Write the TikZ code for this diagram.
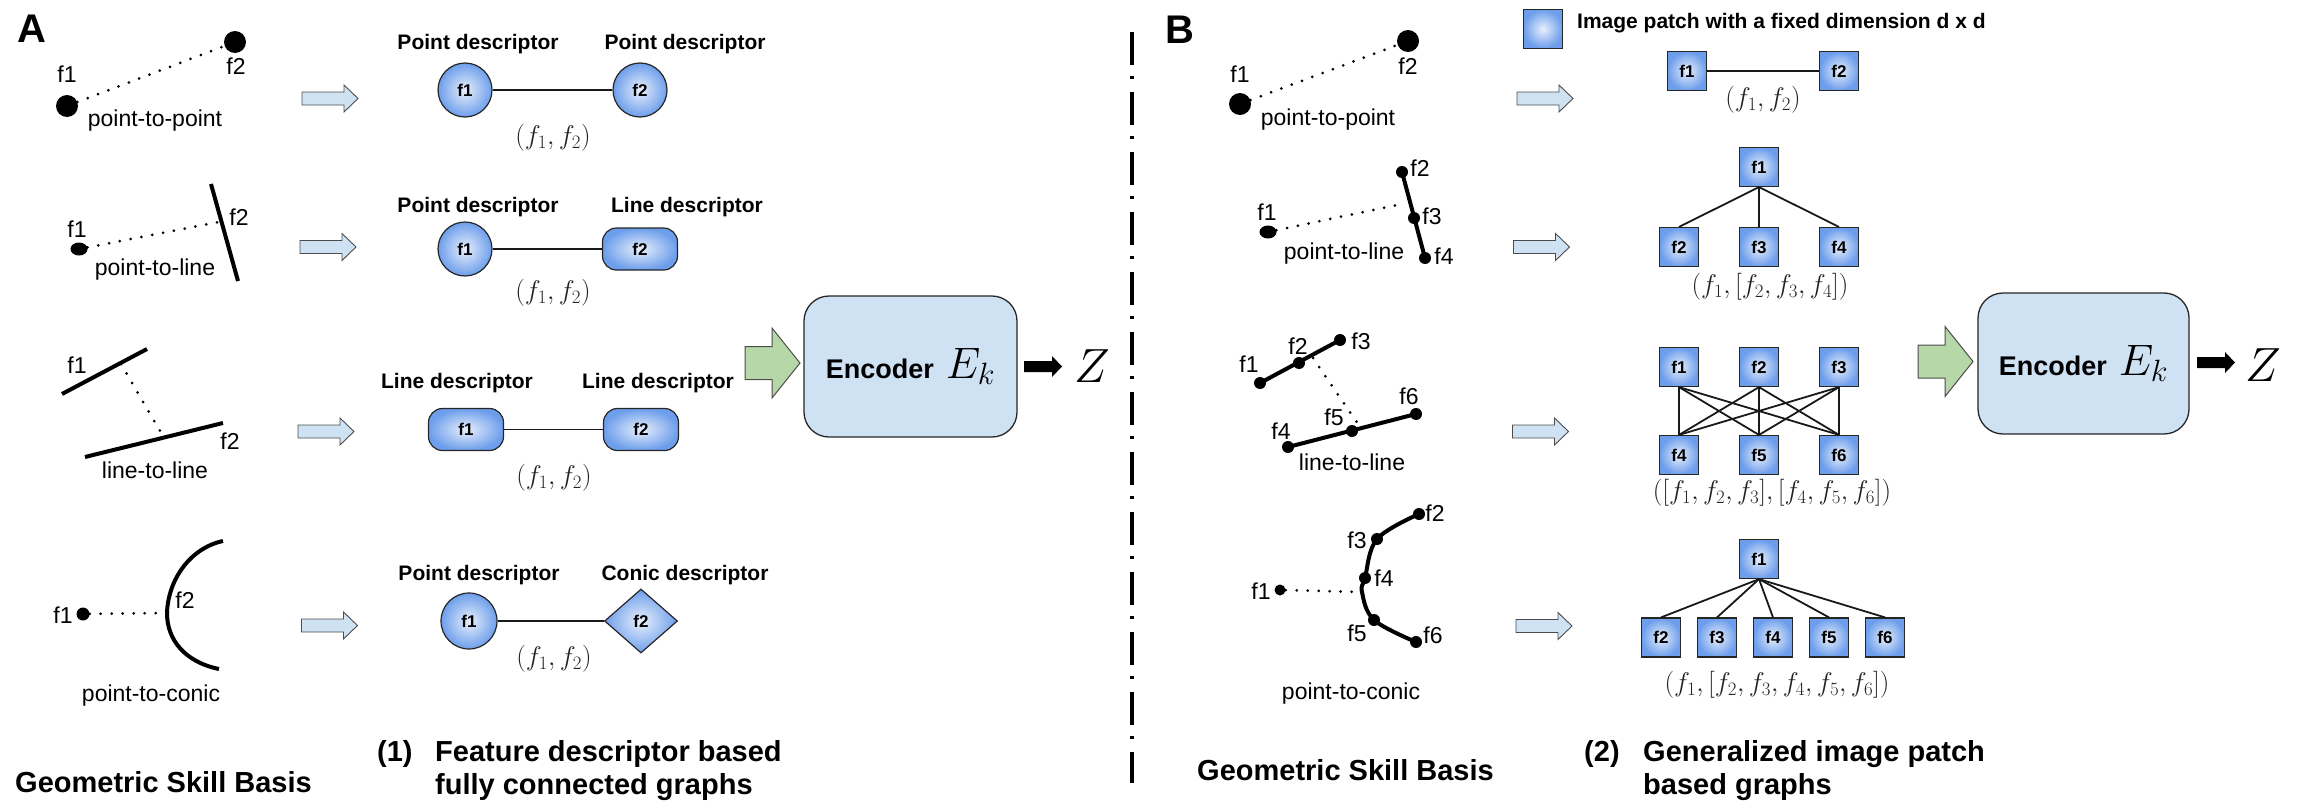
\RequirePackage{fix-cm}
\documentclass[tikz,border=0pt]{standalone}
\usepackage[no-math]{fontspec}
\setmainfont{Liberation Sans}
\usetikzlibrary{shapes.geometric}
\definecolor{lblue}{HTML}{CFE2F3}
\definecolor{lgreen}{HTML}{B6D7A8}
\definecolor{nodeout}{HTML}{6D9EEB}
\definecolor{nodein}{HTML}{E8EFFC}
\definecolor{mathgray}{HTML}{222222}
\newcommand{\fsz}[1]{\fontsize{#1}{#1}\selectfont}
\tikzset{
  ptdot/.style={circle,fill=black,inner sep=0pt,minimum size=22pt},
  smalldot/.style={circle,fill=black,inner sep=0pt,minimum size=12pt},
  ovaldot/.style={ellipse,fill=black,inner sep=0pt,minimum width=17pt,minimum height=13pt},
  flab/.style={inner sep=0pt,font=\fsz{23}},
  dotline/.style={line width=3pt,line cap=round,dash pattern=on 0pt off 11pt},
  thickline/.style={line width=4pt},
  featnode/.style={draw=black!85,line width=1.2pt,inner color=nodein,outer color=nodeout,inner sep=0pt,font=\fsz{17}\bfseries},
  circnode/.style={featnode,circle,minimum size=54pt},
  linenode/.style={featnode,rectangle,rounded corners=14pt,minimum width=75pt,minimum height=42pt},
  conicnode/.style={featnode,diamond,aspect=1.15,minimum width=73pt,minimum height=64pt},
  patch/.style={featnode,rectangle,minimum size=39pt},
  desclab/.style={inner sep=0pt,font=\fsz{21}\bfseries},
  tuplab/.style={inner sep=0pt,text=mathgray,font=\fsz{27}},
  gedge/.style={line width=1.8pt,black!90},
  encbox/.style={draw=black!85,line width=1.3pt,fill=lblue,rounded corners=25pt,minimum width=213pt,minimum height=141pt,inner sep=0pt},
  ttl/.style={inner sep=0pt,anchor=base west,font=\fsz{29}\bfseries},
  panellab/.style={inner sep=0pt,font=\fsz{40}\bfseries},
  zlab/.style={inner sep=0pt,font=\fsz{48}},
  bluearrow/.pic={\draw[fill=lblue,draw=black!70,line width=0.9pt] (-28,-6.5) -- (14,-6.5) -- (14,-13.5) -- (28,0) -- (14,13.5) -- (14,6.5) -- (-28,6.5) -- cycle;},
  greenarrow/.pic={\draw[fill=lgreen,draw=black!70,line width=1pt] (-27.5,-16.5) -- (-0.5,-16.5) -- (-0.5,-35) -- (27.5,0) -- (-0.5,35) -- (-0.5,16.5) -- (-27.5,16.5) -- cycle;},
  blackarrow/.pic={\fill[black] (-19,-5.5) -- (9,-5.5) -- (9,-10.5) -- (19,0) -- (9,10.5) -- (9,5.5) -- (-19,5.5) -- cycle;}
}
\begin{document}
\begin{tikzpicture}[x=1pt,y=-1pt]
\useasboundingbox (0,0) rectangle (2298,811);

% ================= PANEL A =================
\node[panellab] (labA) at (32,29) {A};

% row 1: point-to-point
\node[ptdot] (a1p1) at (67,106) {};
\node[ptdot] (a1p2) at (235,42) {};
\draw[dotline] (a1p1) -- (a1p2);
\node[flab] (a1l1) at (67,74) {f1};
\node[flab] (a1l2) at (236,66) {f2};
\node[flab] (a1cap) at (155,121) {point-to-point};

% row 2: point-to-line
\node[ovaldot] (a2p1) at (79,249) {};
\coordinate (a2s1) at (211,184);
\coordinate (a2s2) at (238,281);
\coordinate (a2d) at (219,222);
\draw[thickline] (a2s1) -- (a2s2);
\draw[dotline] (a2p1) -- (a2d);
\node[flab] (a2l1) at (77,229) {f1};
\node[flab] (a2l2) at (239,217) {f2};
\node[flab] (a2cap) at (155,270) {point-to-line};

% row 3: line-to-line
\coordinate (a3s1) at (62,394);
\coordinate (a3s2) at (147,349);
\coordinate (a3t1) at (85,457);
\coordinate (a3t2) at (223,423);
\coordinate (a3d1) at (121,364);
\coordinate (a3d2) at (163,436);
\draw[thickline] (a3s1) -- (a3s2);
\draw[thickline] (a3t1) -- (a3t2);
\draw[dotline] (a3d1) -- (a3d2);
\node[flab] (a3l1) at (77,365) {f1};
\node[flab] (a3l2) at (230,441) {f2};
\node[flab] (a3cap) at (155,470) {line-to-line};

% row 4: point-to-conic
\node[smalldot,minimum size=13pt] (a4p1) at (83,614) {};
\coordinate (a4c1) at (223,541);
\coordinate (a4c2) at (167,613);
\coordinate (a4c3) at (219,669);
\draw[thickline] (a4c1) .. controls (190,548) and (168,580) .. (a4c2) .. controls (167,640) and (185,662) .. (a4c3);
\draw[dotline] (a4p1) -- (a4c2);
\node[flab] (a4l1) at (63,615) {f1};
\node[flab] (a4l2) at (185,600) {f2};
\node[flab] (a4cap) at (151,696) {point-to-conic};

% blue arrows A
\pic at (330,98.5) {bluearrow};
\pic at (328,247) {bluearrow};
\pic at (326,431.5) {bluearrow};
\pic at (329.5,625.5) {bluearrow};

% graphs A
\node[circnode] (g1a) at (465,90) {f1};
\node[circnode] (g1b) at (640,90) {f2};
\draw[gedge] (g1a) -- (g1b);
\node[desclab] (d1a) at (478,44) {Point descriptor};
\node[desclab] (d1b) at (685,44) {Point descriptor};
\node[tuplab] (t1) at (553,138) {$(f_1, f_2)$};

\node[circnode] (g2a) at (465,249) {f1};
\node[linenode] (g2b) at (640,249) {f2};
\draw[gedge] (g2a) -- (g2b);
\node[desclab] (d2a) at (478,207) {Point descriptor};
\node[desclab] (d2b) at (687,207) {Line descriptor};
\node[tuplab] (t2) at (553,293) {$(f_1, f_2)$};

\node[linenode] (g3a) at (466,429.5) {f1};
\node[linenode] (g3b) at (641,429.5) {f2};
\draw[gedge] (g3a) -- (g3b);
\node[desclab] (d3a) at (457,383) {Line descriptor};
\node[desclab] (d3b) at (658,383) {Line descriptor};
\node[tuplab] (t3) at (554,478) {$(f_1, f_2)$};

\node[circnode,minimum size=56pt] (g4a) at (469,621) {f1};
\node[conicnode] (g4b) at (641,621) {f2};
\draw[gedge] (g4a) -- (g4b);
\node[desclab] (d4a) at (479,575) {Point descriptor};
\node[desclab] (d4b) at (685,575) {Conic descriptor};
\node[tuplab] (t4) at (554,659) {$(f_1, f_2)$};

% encoder A
\pic at (772.5,363) {greenarrow};
\node[encbox] (encA) at (910.5,366.5) {{\fsz{27}\bfseries Encoder}\hspace{12pt}{\fsz{44}$E_k$}};
\pic at (1043,366.5) {blackarrow};
\node[zlab] (zA) at (1092,366.5) {$Z$};

% titles A
\node[ttl] (tA) at (15,792) {Geometric Skill Basis};
\node[ttl] (tA1) at (377,761) {(1)};
\node[ttl] (tA2) at (435,761) {Feature descriptor based};
\node[ttl] (tA3) at (435,794) {fully connected graphs};

% divider
\coordinate (divtop) at (1132,32);
\coordinate (divbot) at (1132,783);
\draw[line width=3.3pt,dash pattern=on 33pt off 11pt on 3pt off 13pt] (divtop) -- (divbot);

% ================= PANEL B =================
\node[panellab] (labB) at (1180,30) {B};

% row 1
\node[ptdot] (b1p1) at (1240,104) {};
\node[ptdot] (b1p2) at (1408,41) {};
\draw[dotline] (b1p1) -- (b1p2);
\node[flab] (b1l1) at (1240,74) {f1};
\node[flab] (b1l2) at (1408,66) {f2};
\node[flab] (b1cap) at (1328,120) {point-to-point};

% row 2
\node[ovaldot] (b2p1) at (1268,232) {};
\node[smalldot] (b2p2) at (1402,172) {};
\node[smalldot] (b2p3) at (1414,218) {};
\node[smalldot] (b2p4) at (1425,258) {};
\coordinate (b2d) at (1397,205);
\draw[thickline] (b2p2.center) -- (b2p4.center);
\draw[dotline] (b2p1) -- (b2d);
\node[flab] (b2l1) at (1267,212) {f1};
\node[flab] (b2l2) at (1420,168) {f2};
\node[flab] (b2l3) at (1432,216) {f3};
\node[flab] (b2l4) at (1444,256) {f4};
\node[flab] (b2cap) at (1344,254) {point-to-line};

% row 3
\node[smalldot] (b3p1) at (1260,383) {};
\node[smalldot] (b3p2) at (1299,363) {};
\node[smalldot] (b3p3) at (1340,340) {};
\node[smalldot] (b3p4) at (1288,447) {};
\node[smalldot] (b3p5) at (1352,431) {};
\node[smalldot] (b3p6) at (1416,414) {};
\draw[thickline] (b3p1.center) -- (b3p3.center);
\draw[thickline] (b3p4.center) -- (b3p6.center);
\coordinate (b3d1) at (1313,358);
\coordinate (b3d2) at (1358,424);
\draw[dotline] (b3d1) -- (b3d2);
\node[flab] (b3l1) at (1249,364) {f1};
\node[flab] (b3l2) at (1298,346) {f2};
\node[flab] (b3l3) at (1361,341) {f3};
\node[flab] (b3l4) at (1281,431) {f4};
\node[flab] (b3l5) at (1334,417) {f5};
\node[flab] (b3l6) at (1409,396) {f6};
\node[flab] (b3cap) at (1352,462) {line-to-line};

% row 4
\node[smalldot,minimum size=11pt] (b4p1) at (1280,590) {};
\node[smalldot] (b4p2) at (1419,514) {};
\node[smalldot] (b4p3) at (1377,539) {};
\node[smalldot] (b4p4) at (1365,578) {};
\node[smalldot] (b4p5) at (1374,620) {};
\node[smalldot] (b4p6) at (1416,642) {};
\coordinate (b4left) at (1362,592);
\draw[thickline] plot[smooth,tension=0.6] coordinates {(b4p2.center) (b4p3.center) (b4p4.center) (b4left) (b4p5.center) (b4p6.center)};
\draw[dotline] (b4p1) -- (b4left);
\node[flab] (b4l1) at (1261,591) {f1};
\node[flab] (b4l2) at (1435,513) {f2};
\node[flab] (b4l3) at (1357,540) {f3};
\node[flab] (b4l4) at (1384,578) {f4};
\node[flab] (b4l5) at (1357,633) {f5};
\node[flab] (b4l6) at (1433,635) {f6};
\node[flab] (b4cap) at (1351,694) {point-to-conic};

% blue arrows B
\pic at (1545,98.5) {bluearrow};
\pic at (1541.5,247) {bluearrow};
\pic at (1540.5,431.5) {bluearrow};
\pic at (1544,626) {bluearrow};

% legend
\node[patch] (legp) at (1543,29) {};
\node[desclab,anchor=west] (legt) at (1577,23) {Image patch with a fixed dimension d x d};

% graph B1
\node[patch] (h1a) at (1687,71) {f1};
\node[patch] (h1b) at (1839,71) {f2};
\draw[gedge] (h1a) -- (h1b);
\node[tuplab] (u1) at (1763,100) {$(f_1, f_2)$};

% graph B2
\node[patch] (h2a) at (1759,167) {f1};
\node[patch] (h2b) at (1679,247) {f2};
\node[patch] (h2c) at (1759,247) {f3};
\node[patch] (h2d) at (1839,247) {f4};
\foreach \c in {h2b,h2c,h2d} \draw[gedge] (h2a.south) -- (\c.north);
\node[tuplab] (u2) at (1770,287) {$(f_1, [f_2, f_3, f_4])$};

% graph B3
\node[patch] (h3a) at (1679,367) {f1};
\node[patch] (h3b) at (1759,367) {f2};
\node[patch] (h3c) at (1839,367) {f3};
\node[patch] (h3d) at (1679,455) {f4};
\node[patch] (h3e) at (1759,455) {f5};
\node[patch] (h3f) at (1839,455) {f6};
\foreach \s in {h3a,h3b,h3c} \foreach \t in {h3d,h3e,h3f} \draw[gedge] (\s.south) -- (\t.north);
\node[tuplab] (u3) at (1772,493) {$([f_1, f_2, f_3], [f_4, f_5, f_6])$};

% graph B4
\node[patch] (h4a) at (1759,559) {f1};
\node[patch] (h4b) at (1661,637.5) {f2};
\node[patch] (h4c) at (1717,637.5) {f3};
\node[patch] (h4d) at (1773,637.5) {f4};
\node[patch] (h4e) at (1829,637.5) {f5};
\node[patch] (h4f) at (1885,637.5) {f6};
\foreach \c in {h4b,h4c,h4d,h4e,h4f} \draw[gedge] (h4a.south) -- (\c.north);
\node[tuplab] (u4) at (1777,685) {$(f_1, [f_2, f_3, f_4, f_5, f_6])$};

% encoder B
\pic at (1945.5,361.5) {greenarrow};
\node[encbox,minimum width=211pt] (encB) at (2083.5,363.5) {{\fsz{27}\bfseries Encoder}\hspace{12pt}{\fsz{44}$E_k$}};
\pic at (2216,362.5) {blackarrow};
\node[zlab] (zB) at (2263.5,365.5) {$Z$};

% titles B
\node[ttl] (tB) at (1197,780) {Geometric Skill Basis};
\node[ttl] (tB1) at (1584,761) {(2)};
\node[ttl] (tB2) at (1643,761) {Generalized image patch};
\node[ttl] (tB3) at (1643,794) {based graphs};
\end{tikzpicture}
\end{document}
